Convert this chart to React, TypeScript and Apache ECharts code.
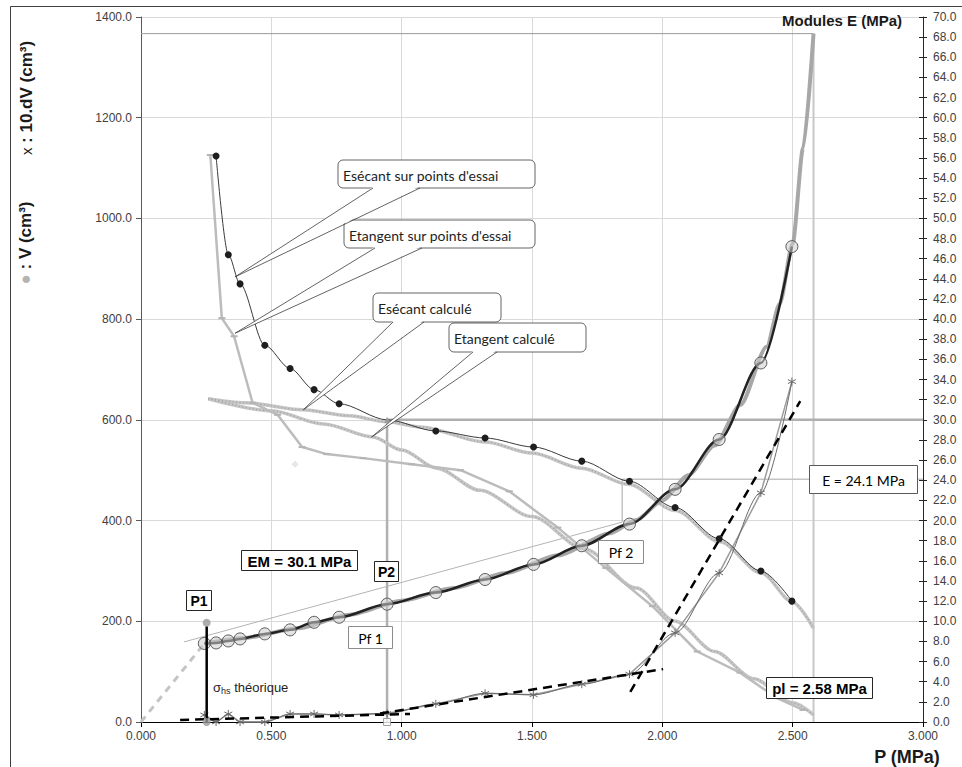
import React, { useEffect, useRef } from 'react';
import * as echarts from 'echarts';

// ---- data ----
const pressure = [0.243, 0.288, 0.335, 0.38, 0.475, 0.572, 0.664, 0.76, 0.944, 1.131, 1.32, 1.506, 1.691, 1.874, 2.049, 2.218, 2.378, 2.497];
const volume = [156, 157, 161, 165, 175, 183, 198, 208, 234, 257, 283, 313, 350, 393, 462, 561, 713, 944];
const dV10 = [14, 0, 16, 0, 0, 16, 16, 14, 17, 36, 57, 54, 75, 95, 177, 296, 455, 676];
// secant modulus on test points (at pressure[1..])
const secantModulus = [56.2, 46.4, 43.5, 37.4, 35.1, 33.0, 31.6, 30.0, 28.9, 28.2, 27.3, 25.9, 23.9, 21.3, 18.2, 15.0, 12.0];
// tangent modulus on test points
const tangentP = [0.266, 0.31, 0.357, 0.428, 0.524, 0.618, 0.712, 0.852, 1.038, 1.226, 1.413, 1.599, 1.783, 1.962, 2.134, 2.298, 2.438, 2.54];
const tangentModulus = [56.3, 40.1, 38.3, 31.7, 30.5, 27.3, 26.6, 26.2, 25.6, 25.0, 22.9, 19.3, 15.3, 11.5, 7.0, 4.9, 2.4, 1.2];
// calculated curves
const secCalcP = [0.258, 0.4, 0.62, 0.8, 0.944, 1.07, 1.32, 1.5, 1.69, 1.87, 2.05, 2.22, 2.38, 2.5, 2.58];
const secCalcE = [32.1, 31.7, 31.0, 30.4, 29.8, 29.3, 27.8, 26.7, 25.2, 23.6, 21.0, 17.9, 14.8, 11.9, 9.3];
const tanCalcP = [0.258, 0.5, 0.7, 0.89, 1.0, 1.135, 1.3, 1.5, 1.7, 1.9, 2.05, 2.2, 2.35, 2.5, 2.58];
const tanCalcE = [32.1, 30.9, 29.6, 28.3, 27.0, 25.2, 23.0, 20.4, 17.2, 13.3, 10.0, 7.0, 4.3, 1.9, 0.7];
const vCalcP = [0.243, 0.4, 0.6, 0.8, 1.0, 1.2, 1.4, 1.6, 1.8, 1.9, 2.0, 2.1, 2.2, 2.3, 2.4, 2.45, 2.5, 2.54, 2.58];
const vCalcV = [156, 167, 186, 213, 241, 266, 296, 331, 375, 401, 440, 490, 549, 630, 745, 830, 950, 1140, 1367];
// characteristic values
const P1 = 0.252;
const P1V = 197;
const P2 = 0.944;
const P2V = 600;
const pl = 2.58;
const vLimit = 1367;
const pf2 = 1.846;
const pf2V = 397;
const E2 = 24.1;
const secantStart = [0.165, 159];
const dashed1 = [[0.15, 4], [1.032, 16]];
const dashed2 = [[0.917, 17], [2.003, 105]];
const dashed3 = [[1.877, 60], [2.529, 637]];
const diamondPoint = [0.591, 25.6];

const xTicks = { min: 0, max: 3, interval: 0.5 };
const yLeft = { min: 0, max: 1400, interval: 200 };
const yRight = { min: 0, max: 70, interval: 2 };

const FONT = 'Liberation Sans, Arial, sans-serif';
const BOXFONT = 'Lato, "Open Sans", sans-serif';

const zip = (a: number[], b: number[]) => a.map((v, i) => [v, b[i]]);
const STAR = 'path://M5,0L5,10M0.7,2.5L9.3,7.5M0.7,7.5L9.3,2.5';

export default function App() {
  const ref = useRef<HTMLDivElement>(null);
  useEffect(() => {
    document.body.style.margin = '0';
    const chart = echarts.init(ref.current!, null, { renderer: 'svg' });
    const hatch = (data: number[][], yAxisIndex: number) => ({
      type: 'line', data, yAxisIndex, symbol: 'none', silent: true,
      lineStyle: { color: '#a4a4a4', width: 1.5, type: [1, 2.5] }, z: 3,
    });
    const axisLbl = { color: '#404040', fontSize: 12, fontFamily: FONT };
    const option: any = {
      animation: false,
      grid: { left: 141, right: 39, top: 17, bottom: 45 },
      xAxis: {
        type: 'value', ...xTicks,
        axisLine: { onZero: false, lineStyle: { color: '#000', width: 1 } },
        axisTick: { length: 5, lineStyle: { color: '#000' } },
        axisLabel: { ...axisLbl, formatter: (v: number) => v.toFixed(3), margin: 8 },
        splitLine: { lineStyle: { color: '#d9d9d9', width: 1 } },
      },
      yAxis: [
        {
          type: 'value', position: 'left', ...yLeft,
          axisLine: { show: true, lineStyle: { color: '#595959' } },
          axisTick: { show: true, length: 5, lineStyle: { color: '#595959' } },
          axisLabel: { ...axisLbl, formatter: (v: number) => v.toFixed(1), margin: 9 },
          splitLine: { lineStyle: { color: '#d9d9d9', width: 1 } },
        },
        {
          type: 'value', position: 'right', ...yRight,
          axisLine: { show: true, lineStyle: { color: '#262626' } },
          axisTick: { show: true, length: 4, lineStyle: { color: '#262626' } },
          axisLabel: { ...axisLbl, formatter: (v: number) => v.toFixed(1), margin: 10 },
          splitLine: { show: false },
        },
        {
          type: 'value', position: 'right', ...yRight,
          axisLine: { show: false },
          axisTick: { show: true, inside: true, length: 4, lineStyle: { color: '#262626' } },
          axisLabel: { show: false },
          splitLine: { show: false },
        },
      ],
      series: [
        // limit lines
        { type: 'line', data: [[0, vLimit], [pl, vLimit]], symbol: 'none', lineStyle: { color: '#9a9a9a', width: 1 }, z: 1 },
        { type: 'line', data: [[pl, vLimit], [pl, 0]], symbol: 'none', lineStyle: { color: '#c8c8c8', width: 2 }, z: 1 },
        { type: 'line', data: [[P2, 0], [P2, P2V], [xTicks.max, P2V]], symbol: 'none', lineStyle: { color: '#b0b0b0', width: 2.5 }, z: 1 },
        { type: 'line', yAxisIndex: 1, data: [[pf2, pf2V / 20], [pf2, E2], [xTicks.max, E2]], symbol: 'none', lineStyle: { color: '#c4c4c4', width: 1.5 }, z: 1 },
        { type: 'line', data: [secantStart, [pf2, pf2V]], symbol: 'none', lineStyle: { color: '#b4b4b4', width: 1 }, z: 1 },
        { type: 'line', data: [[0, 0], [pressure[0], volume[0]]], symbol: 'none', lineStyle: { color: '#c4c4c4', width: 3, type: [7, 6] }, z: 1 },
        // calculated modulus curves
        { type: 'line', yAxisIndex: 1, data: zip(tanCalcP, tanCalcE), symbol: 'none', smooth: 0.3, smoothMonotone: 'x', lineStyle: { color: '#c6c6c6', width: 3.5 }, z: 2 },
        { ...hatch(zip(tanCalcP, tanCalcE), 1), smooth: 0.3, smoothMonotone: 'x' },
        { type: 'line', yAxisIndex: 1, data: zip(secCalcP, secCalcE), symbol: 'none', smooth: 0.3, smoothMonotone: 'x', lineStyle: { color: '#c6c6c6', width: 3.5 }, z: 2 },
        { ...hatch(zip(secCalcP, secCalcE), 1), smooth: 0.3, smoothMonotone: 'x' },
        // tangent on test points
        {
          type: 'line', yAxisIndex: 1, data: zip(tangentP, tangentModulus), symbol: 'rect', symbolSize: [7, 2],
          itemStyle: { color: '#b4b4b4' }, lineStyle: { color: '#bcbcbc', width: 2.5 }, z: 4,
        },
        // calculated volume
        { type: 'line', data: zip(vCalcP, vCalcV), symbol: 'none', smooth: 0.25, smoothMonotone: 'x', lineStyle: { color: '#a8a8a8', width: 4 }, z: 4 },
        { ...hatch(zip(vCalcP, vCalcV), 0), smooth: 0.25, smoothMonotone: 'x', z: 5 },
        // measured volume
        {
          type: 'line', data: zip(pressure, volume), smooth: 0.3, smoothMonotone: 'x', symbol: 'circle', symbolSize: 12,
          itemStyle: { color: 'rgba(205,205,205,0.55)', borderColor: '#5a5a5a', borderWidth: 1 },
          lineStyle: { color: '#222', width: 2.5 }, z: 6,
        },
        // 10.dV
        { type: 'line', data: zip(pressure, dV10), symbol: 'none', lineStyle: { color: '#9c9c9c', width: 1.5 }, z: 6 },
        {
          type: 'line', data: zip(pressure, dV10), smooth: 0.3, smoothMonotone: 'x', symbol: STAR, symbolSize: 8, clip: false,
          itemStyle: { color: '#6a6a6a', borderColor: '#6a6a6a', borderWidth: 1 },
          lineStyle: { color: '#6a6a6a', width: 1 }, z: 7,
        },
        // dashed construction lines
        { type: 'line', data: dashed1, symbol: 'none', lineStyle: { color: '#000', width: 2.5, type: [9, 6] }, z: 8 },
        { type: 'line', data: dashed2, symbol: 'none', lineStyle: { color: '#000', width: 2.5, type: [9, 6] }, z: 8 },
        { type: 'line', data: dashed3, symbol: 'none', lineStyle: { color: '#000', width: 2.5, type: [9, 6] }, z: 8 },
        // secant on test points
        {
          type: 'line', yAxisIndex: 1,
          data: pressure.slice(1).map((p, i) => (Math.abs(p - P2) < 0.01
            ? { value: [p, secantModulus[i]], symbol: 'triangle', symbolSize: 6, itemStyle: { color: '#9a9a9a' } }
            : [p, secantModulus[i]])),
          smooth: 0.3, smoothMonotone: 'x', symbol: 'circle', symbolSize: 7,
          itemStyle: { color: '#1e1e1e' }, lineStyle: { color: '#3a3a3a', width: 1 }, z: 9,
        },
        // P1
        { type: 'line', data: [[P1, 0], [P1, 190]], symbol: 'none', lineStyle: { color: '#000', width: 2.5 }, z: 10 },
        { type: 'scatter', data: [[P1, P1V], [P1, 0]], symbol: 'circle', symbolSize: 8, clip: false, itemStyle: { color: '#9a9a9a' }, z: 10 },
        { type: 'scatter', data: [[P2, 0]], symbol: 'rect', symbolSize: 7, clip: false, itemStyle: { color: '#fff', borderColor: '#8a8a8a', borderWidth: 1 }, z: 10 },
        { type: 'scatter', yAxisIndex: 1, data: [diamondPoint], symbol: 'diamond', symbolSize: 7, itemStyle: { color: '#e0e0e0' }, z: 3 },
      ],
    };
    chart.setOption(option);

    const toR = (p: number, e: number) => chart.convertToPixel({ xAxisIndex: 0, yAxisIndex: 1 } as any, [p, e]) as number[];

    const els: any[] = [];
    const callout = (x1: number, y1: number, x2: number, y2: number, text: string, b0: number, b1: number, tip: number[]) => {
      els.push(
        { type: 'rect', z: 100, shape: { x: x1, y: y1, width: x2 - x1, height: y2 - y1, r: 5 }, style: { fill: '#fff', stroke: '#3c3c3c', lineWidth: 0.8 } },
        { type: 'polygon', z: 101, shape: { points: [[b0 + 0.6, y2 - 1.5], [b1 - 0.6, y2 - 1.5], tip] }, style: { fill: '#fff' } },
        { type: 'polyline', z: 102, shape: { points: [[b0, y2], tip, [b1, y2]] }, style: { stroke: '#3c3c3c', lineWidth: 0.8, fill: null } },
        { type: 'text', z: 103, x: x1 + 5, y: (y1 + y2) / 2 + 1, style: { text, font: '14px ' + BOXFONT, fill: '#1e1e1e', verticalAlign: 'middle' } },
      );
    };
    const box = (x1: number, y1: number, x2: number, y2: number, text: string, font: string, stroke: string) => {
      els.push(
        { type: 'rect', z: 100, shape: { x: x1, y: y1, width: x2 - x1, height: y2 - y1 }, style: { fill: '#fff', stroke, lineWidth: 1 } },
        { type: 'text', z: 101, x: (x1 + x2) / 2, y: (y1 + y2) / 2 + 0.5, style: { text, font, fill: '#000', align: 'center', verticalAlign: 'middle' } },
      );
    };

    callout(338, 160, 535, 188, "Esécant sur points d'essai", 373, 420, toR(0.361, 44.2));
    callout(344, 220, 535, 248, "Etangent sur points d'essai", 375, 422, toR(0.361, 38.6));
    callout(373, 293, 501, 322, 'Esécant calculé', 393, 424, toR(0.623, 31.0));
    callout(449, 323, 586, 352, 'Etangent calculé', 473, 497, toR(0.885, 28.3));

    box(241.5, 550.5, 357.5, 570.5, 'EM = 30.1 MPa', 'bold 15px ' + FONT, '#262626');
    box(374.5, 561.5, 398.5, 581.5, 'P2', 'bold 14px ' + FONT, '#262626');
    box(186.5, 590.5, 211.5, 610.5, 'P1', 'bold 14px ' + FONT, '#262626');
    box(348.5, 626.5, 392.5, 648.5, 'Pf 1', '14px ' + BOXFONT, '#8c8c8c');
    box(598.5, 540.5, 643.5, 563.5, 'Pf 2', '14px ' + BOXFONT, '#8c8c8c');
    box(809.5, 465.5, 917.5, 493.5, 'E = 24.1 MPa', '14px ' + BOXFONT, '#595959');
    box(766.5, 677.5, 872.5, 698.5, 'pl = 2.58 MPa', 'bold 15px ' + FONT, '#262626');

    els.push(
      {
        type: 'text', z: 100, x: 213, y: 687,
        style: {
          text: '{s|σ}{sub|hs}{t| théorique}', fill: '#1e1e1e', verticalAlign: 'middle',
          rich: {
            s: { fontSize: 13, fontFamily: FONT, lineHeight: 16, verticalAlign: 'middle' },
            sub: { fontSize: 9, fontFamily: FONT, lineHeight: 16, verticalAlign: 'bottom', padding: [6, 0, 0, 0] },
            t: { fontSize: 13, fontFamily: FONT, lineHeight: 16, verticalAlign: 'middle' },
          },
        },
      },
      { type: 'text', z: 100, x: 842, y: 20, style: { text: 'Modules E (MPa)', font: 'bold 15px ' + FONT, fill: '#1a1a1a', align: 'center', verticalAlign: 'middle' } },
      { type: 'text', z: 100, x: 907, y: 757, style: { text: 'P (MPa)', font: 'bold 18px ' + FONT, fill: '#1a1a1a', align: 'center', verticalAlign: 'middle' } },
      {
        type: 'text', z: 100, x: 25, y: 243, rotation: Math.PI / 2,
        style: {
          text: '{d|●} : V (cm³)', font: 'bold 17px ' + FONT, fill: '#1a1a1a', align: 'center', verticalAlign: 'middle',
          rich: { d: { fontSize: 17, fill: '#b4b4b4', fontFamily: FONT } },
        },
      },
      {
        type: 'text', z: 100, x: 26, y: 98, rotation: Math.PI / 2,
        style: {
          text: '{x|x} : 10.dV (cm³)', font: 'bold 17px ' + FONT, fill: '#1a1a1a', align: 'center', verticalAlign: 'middle',
          rich: { x: { fontSize: 15, fontWeight: 'normal', fontFamily: FONT } },
        },
      },
      { type: 'rect', z: 0, silent: true, shape: { x: 10.5, y: 6.5, width: 960, height: 800 }, style: { fill: 'none', stroke: '#404040', lineWidth: 1 } },
    );

    chart.setOption({ graphic: els });
    return () => chart.dispose();
  }, []);
  return <div ref={ref} style={{ width: 962, height: 767 }} />;
}
